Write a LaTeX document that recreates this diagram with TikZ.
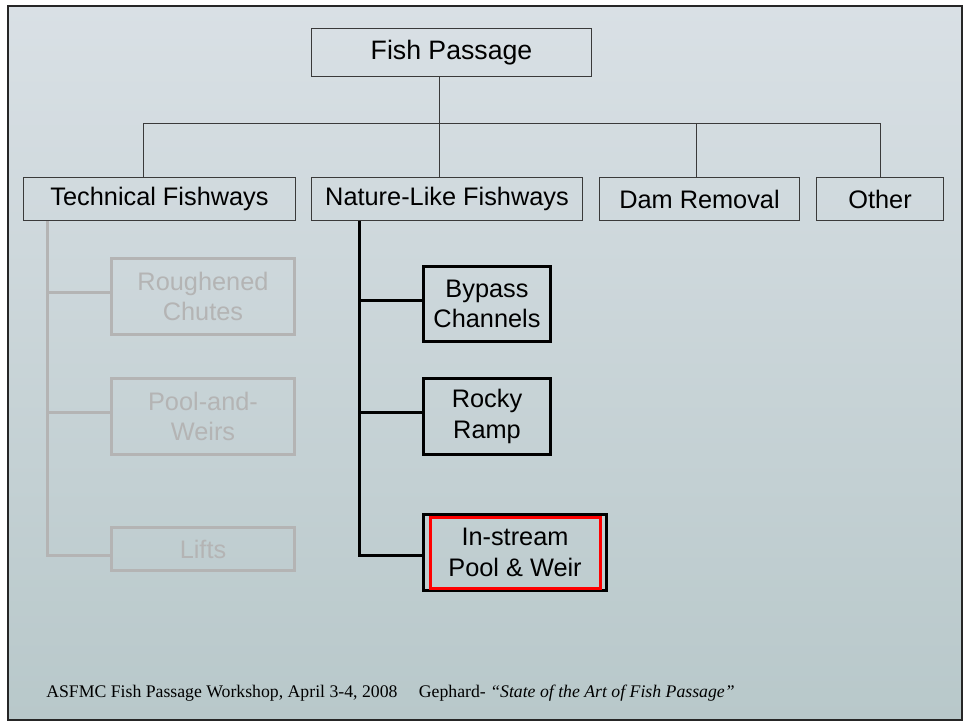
\documentclass[tikz,border=0pt]{standalone}
\usepackage{fontspec}
\setmainfont{Liberation Sans}
\newfontfamily\footfont{Liberation Serif}
\usetikzlibrary{calc}
\definecolor{seaTop}{HTML}{D9E0E5}
\definecolor{seaBot}{HTML}{B8C8CA}
\definecolor{mGrey}{HTML}{B4B4B4}
\definecolor{mLine}{HTML}{3A3A3A}
\newdimen\px \px=0.75pt

\begin{document}
\begin{tikzpicture}[x=0.75pt, y=-0.75pt,
    topbox/.style={draw=mLine, line width=1\px, minimum height=43\px, inner sep=0pt,
      font=\fontsize{19}{23}\selectfont},
    subbox/.style={draw=black, line width=3\px, minimum height=76\px, inner sep=0pt,
      align=center, font=\fontsize{19}{23}\selectfont},
    greybox/.style={subbox, draw=mGrey, text=mGrey},
    link/.style={mLine, line width=1\px},
    branch/.style={black, line width=3\px}]
  \useasboundingbox (0,0) rectangle (969,723);
  \shade[top color=seaTop, bottom color=seaBot] (8,6) rectangle (962,720);
  \draw[line width=2\px, black!85] (8,6) rectangle (962,720);

  % first two levels
  \node[topbox, minimum width=280\px, minimum height=48\px,
    font=\fontsize{20}{24}\selectfont] (fish) at (451.5,52.5) {Fish Passage};
  \node[topbox, minimum width=272\px] (tech) at (159.5,199) {Technical Fishways};
  \node[topbox, minimum width=271\px] (nature) at (447,199) {Nature-Like Fishways};
  \node[topbox, minimum width=200\px] (dam) at (699.5,199) {Dam Removal};
  \node[topbox, minimum width=127\px] (other) at (880,199) {Other};

  \coordinate (hub) at (439,124);
  \coordinate (barL) at (143.5,124);
  \coordinate (barD) at (696,124);
  \coordinate (barR) at (880,124);
  \draw[link] (hub |- fish.south) -- (hub |- nature.north);
  \draw[link] (barL |- tech.north) -- (barL) -- (barR) -- (barR |- other.north);
  \draw[link] (barD) -- (barD |- dam.north);

  % technical fishways, greyed out
  \node[greybox, minimum width=183\px] (rough) at (203,296.5) {Roughened\\Chutes};
  \node[greybox, minimum width=183\px] (weirs) at (203,416.5) {Pool-and-\\Weirs};
  \node[greybox, minimum width=183\px, minimum height=43\px] (lifts) at (203,549) {Lifts};
  \coordinate (gEnd) at (47,555);
  \draw[branch, mGrey] (gEnd |- tech.south) -- (gEnd) -- (gEnd -| lifts.west);
  \foreach \b/\y in {rough/292, weirs/412}
    \draw[branch, mGrey] (47,\y) -- (\b.west |- 0,\y);

  % nature-like fishways
  \node[subbox, minimum width=127\px, minimum height=75\px] (bypass) at (487,304) {Bypass\\Channels};
  \node[subbox, minimum width=127\px] (rocky) at (487,416.5) {Rocky\\Ramp};
  \node[subbox, minimum width=183\px] (pool) at (515,552.5) {In-stream\\Pool \& Weir};
  \draw[red, line width=3\px] ($(pool.north west)+(8,4)$) rectangle ($(pool.south east)+(-8,-4)$);
  \coordinate (nEnd) at (359,555);
  \draw[branch] (nEnd |- nature.south) -- (nEnd) -- (nEnd -| pool.west);
  \foreach \b/\y in {bypass/300, rocky/412}
    \draw[branch] (359,\y) -- (\b.west |- 0,\y);

  \node[anchor=base west, inner sep=0pt, font=\footfont\fontsize{13.3}{16}\selectfont] (foot)
    at (46,697) {ASFMC Fish Passage Workshop, April 3-4, 2008\hspace{16pt}Gephard- \textit{“State of the Art of Fish Passage”}};
\end{tikzpicture}
\end{document}
